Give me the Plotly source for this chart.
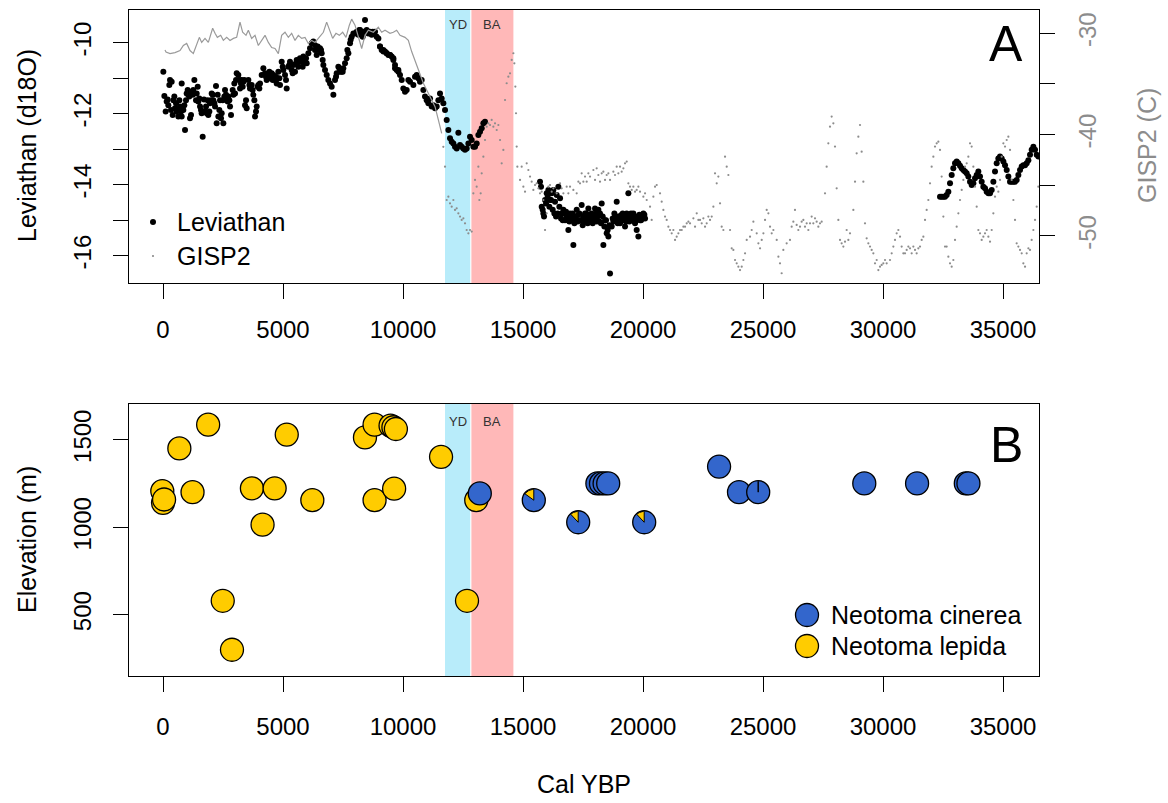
import numpy as np
import plotly.graph_objects as go

# ---------------- Leviathan Cave d18O (cal yr BP, permil) ----------------
lev_holocene = [
    (14, -10.82), (56, -11.50), (111, -11.94), (194, -11.60), (222, -11.76), (292, -11.05),
    (361, -11.10), (431, -11.62), (500, -11.85), (569, -11.94), (639, -12.08), (708, -11.80),
    (778, -11.15), (778, -12.08), (847, -11.90), (917, -12.46), (986, -11.43), (1056, -11.47),
    (1125, -12.13), (1195, -11.38), (1264, -11.33), (1306, -11.05), (1403, -11.43), (1472, -11.66),
    (1542, -11.80), (1611, -11.99), (1653, -12.65), (1708, -11.60), (1750, -11.94), (1820, -11.99),
    (1889, -12.04), (1958, -11.71), (2028, -11.43), (2097, -11.62), (2167, -11.80), (2208, -11.22),
    (2236, -12.27), (2306, -12.08), (2375, -11.62), (2445, -11.99), (2514, -12.27), (2584, -11.33),
    (2653, -11.62), (2722, -11.52), (2792, -11.80), (2834, -12.04), (2931, -11.47), (3000, -11.43),
    (3070, -10.86), (3139, -10.91), (3209, -11.29), (3278, -11.05), (3348, -11.10), (3417, -11.76),
    (3486, -11.85), (3556, -11.05), (3625, -11.29), (3695, -11.19), (3764, -11.47), (3834, -12.08),
    (3903, -11.80), (3973, -11.19), (4042, -11.15), (4181, -10.72), (4250, -10.86), (4320, -11.05),
    (4389, -10.91), (4459, -11.00), (4528, -10.86), (4598, -10.91), (4667, -11.05), (4736, -11.15),
    (4806, -10.82), (4875, -11.19), (4945, -10.54), (5014, -10.77), (5084, -10.91), (5153, -11.29),
    (5223, -10.68), (5292, -10.54), (5362, -10.77), (5431, -10.63), (5500, -10.82), (5570, -10.49),
    (5639, -10.68), (5709, -10.44), (5778, -10.54), (5848, -10.39), (5917, -10.49), (5987, -10.58),
    (6125, -10.16), (6195, -10.02), (6264, -9.97), (6334, -10.07), (6403, -10.35), (6473, -10.21),
    (6542, -10.16), (6612, -10.30), (6681, -10.63), (6751, -10.77), (6889, -11.05), (6959, -11.15),
    (7028, -11.24), (7098, -11.47), (7167, -11.05), (7237, -10.86), (7306, -10.68), (7376, -10.82),
    (7445, -10.82), (7514, -10.72), (7653, -10.44), (7723, -10.30), (7792, -10.02), (7862, -9.83),
    (7931, -9.74), (8070, -9.69), (8140, -9.78), (8209, -9.64), (8278, -9.74), (8348, -9.69),
    (8417, -9.36), (8487, -9.64), (8556, -9.74), (8626, -9.69), (8695, -9.78), (8765, -9.74),
    (8834, -9.69), (8973, -9.88), (9042, -10.11), (9181, -10.25), (9320, -10.30), (9459, -10.35),
    (9598, -10.49), (9737, -10.77), (9806, -10.82),
    (153, -11.66), (264, -11.19), (333, -11.90), (403, -12.04), (472, -11.52), (542, -11.71),
    (611, -11.90), (681, -11.62), (750, -11.94), (889, -11.76), (958, -11.62), (1028, -11.33),
    (1097, -11.52), (1167, -12.04), (1236, -11.47), (1375, -11.62), (1445, -11.24), (1514, -11.57),
    (1583, -11.90), (1792, -11.80), (1861, -11.62), (1931, -11.94), (2000, -11.62), (2070, -11.47),
    (2139, -11.71), (2278, -11.47), (2347, -11.90), (2417, -12.13), (2486, -11.62), (2556, -11.52),
    (2625, -11.47), (2695, -11.66), (2764, -11.62), (2903, -11.33), (2972, -11.15), (3042, -11.05),
    (3181, -11.05), (3250, -11.15), (3320, -11.24), (3389, -11.05), (3459, -11.62), (3598, -11.19),
    (3736, -11.33), (3806, -11.62), (3875, -11.94), (3945, -11.24), (4014, -11.29), (4111, -10.91),
    (4292, -10.96), (4431, -10.82), (4570, -11.05), (4709, -10.96), (4848, -11.00), (4987, -10.68),
    (5125, -11.05), (5264, -10.63), (5403, -10.86), (5542, -10.58), (5681, -10.54), (5820, -10.68),
    (5959, -10.44), (6056, -10.30), (6334, -10.21), (6445, -10.11), (6584, -10.21), (6653, -10.49),
    (6820, -10.91), (7209, -10.96), (7348, -10.72), (7487, -10.82), (7584, -10.58), (7681, -10.21),
    (7820, -9.92), (8001, -9.74), (8181, -9.64), (8320, -9.83), (8515, -9.69), (8737, -9.69),
    (8903, -9.83), (9112, -10.21), (9251, -10.25), (9390, -10.35), (9529, -10.39), (9667, -10.63),
]

lev_deglacial = [
    (9042, -10.11), (9181, -10.21), (9320, -10.30), (9459, -10.35), (9598, -10.44), (9667, -10.72),
    (9806, -10.77), (9875, -10.91), (9945, -11.05), (10014, -11.29), (10084, -11.38), (10153, -11.33),
    (10223, -11.05), (10292, -11.10), (10431, -11.19), (10500, -10.96), (10570, -10.91), (10639, -11.00),
    (10709, -11.10), (10778, -11.05), (10848, -11.33), (10917, -11.52), (10987, -11.62), (11056, -11.71),
    (11126, -11.57), (11195, -11.80), (11264, -11.76), (11334, -11.85), (11403, -11.80), (11473, -11.62),
    (11542, -11.43), (11612, -11.57), (11681, -11.71), (11751, -11.90), (11820, -12.18), (11890, -12.46),
    (11959, -12.69), (12029, -12.79), (12098, -12.84), (12167, -12.93), (12237, -12.98), (12306, -12.54),
    (12376, -12.88), (12445, -12.93), (12515, -12.98), (12584, -13.02), (12653, -12.98), (12723, -12.84),
    (12792, -12.65), (12862, -12.74), (12931, -12.93), (13001, -12.93), (13070, -12.84), (13140, -12.60),
    (13209, -12.51), (13279, -12.41), (13348, -12.27), (13417, -12.23),
]

lev_glacial = [
    (15709, -13.92), (15779, -14.62), (15848, -14.81), (15918, -14.43), (15987, -14.24), (16057, -14.15),
    (16126, -14.43), (16195, -14.24), (16265, -14.15), (16334, -14.48), (16404, -14.29), (16473, -14.06),
    (16543, -14.38), (16612, -14.81), (16682, -14.71), (16751, -15.00), (16820, -14.90), (16890, -15.28),
    (16959, -14.81), (17029, -15.00), (17098, -15.70), (17168, -14.90), (17237, -14.71), (17307, -14.85),
    (17376, -15.00), (17445, -14.57), (17515, -14.90), (17584, -14.81), (17654, -14.95), (17723, -14.67),
    (17793, -15.00), (17862, -14.81), (17932, -14.90), (18001, -14.67), (18070, -15.04), (18140, -14.71),
    (18209, -14.81), (18279, -14.53), (18348, -15.70), (18418, -15.00), (18487, -15.37), (18557, -15.46),
    (18626, -16.50), (18696, -15.18), (18765, -15.04), (18834, -14.90), (18904, -14.48), (18973, -14.90),
    (19043, -15.09), (19112, -14.85), (19182, -15.00), (19251, -15.18), (19321, -14.81), (19390, -14.24),
    (19459, -14.90), (19529, -15.00), (19598, -14.81), (19668, -15.09), (19737, -15.28), (19807, -15.46),
    (19876, -15.00), (19946, -14.90), (20015, -14.81), (20085, -14.95),
    (15751, -14.06), (15820, -14.71), (15876, -14.90), (15959, -14.53), (16029, -14.34), (16098, -14.62),
    (16168, -14.43), (16237, -14.71), (16307, -14.81), (16376, -14.90), (16445, -14.81), (16515, -14.62),
    (16584, -14.95), (16654, -15.00), (16723, -14.81), (16793, -14.76), (16862, -15.00), (16932, -15.04),
    (17001, -14.90), (17070, -14.81), (17140, -15.09), (17209, -14.95), (17279, -15.04), (17348, -14.81),
    (17418, -15.00), (17487, -15.14), (17557, -15.00), (17626, -14.81), (17696, -15.09), (17765, -14.85),
    (17834, -14.95), (17904, -15.09), (17973, -15.00), (18043, -14.81), (18112, -14.90), (18182, -15.04),
    (18251, -15.09), (18321, -14.90), (18390, -15.18), (18459, -15.00), (18529, -15.28), (18598, -15.14),
    (18737, -14.95), (18807, -14.81), (18876, -15.00), (18946, -15.09), (19015, -14.90), (19085, -15.00),
    (19154, -14.81), (19224, -14.95), (19293, -15.04), (19363, -14.90), (19432, -15.04), (19501, -14.81),
    (19571, -14.95), (19640, -14.90), (19710, -15.00), (19779, -14.90), (19849, -14.85), (19918, -15.00),
    (19988, -14.95), (20057, -14.85),
]

lev_mis3 = [
    (32376, -14.34), (32445, -14.34), (32515, -14.34), (32584, -14.34), (32653, -14.29), (32723, -14.20),
    (32792, -13.96), (32862, -13.73), (32931, -13.54), (33001, -13.40), (33070, -13.35), (33140, -13.40),
    (33209, -13.47), (33279, -13.54), (33348, -13.59), (33417, -13.63), (33487, -13.68), (33556, -13.77),
    (33626, -13.92), (33695, -14.01), (33765, -13.96), (33834, -13.82), (33904, -13.73), (33973, -13.63),
    (34042, -13.77), (34112, -13.92), (34181, -14.06), (34251, -14.10), (34320, -14.20), (34390, -14.24),
    (34459, -14.24), (34529, -14.15), (34598, -13.92), (34667, -13.63), (34737, -13.40), (34806, -13.26),
    (34876, -13.21), (34945, -13.26), (35015, -13.35), (35084, -13.45), (35154, -13.59), (35223, -13.77),
    (35293, -13.92), (35362, -13.92), (35432, -13.92), (35501, -13.92), (35570, -13.87), (35640, -13.73),
    (35709, -13.59), (35779, -13.49), (35848, -13.45), (35918, -13.45), (35987, -13.40), (36057, -13.31),
    (36126, -13.16), (36195, -13.02), (36265, -12.93), (36334, -13.02), (36404, -13.16), (36473, -13.21),
]

# ---------------- GISP2 temperature (cal yr BP, deg C) ----------------
gisp2_holocene = [
    (83, -31.64), (125, -31.85), (292, -32.00), (500, -31.90), (708, -31.70), (847, -31.20),
    (986, -31.00), (1125, -31.70), (1264, -32.00), (1403, -31.00), (1514, -30.40), (1611, -30.90),
    (1750, -30.50), (1889, -30.90), (2069, -29.50), (2167, -30.00), (2264, -30.40), (2403, -30.20),
    (2514, -30.70), (2653, -30.40), (2792, -30.70), (2931, -30.50), (3069, -30.40), (3208, -28.90),
    (3319, -29.90), (3458, -30.20), (3556, -29.70), (3694, -30.50), (3833, -30.20), (3972, -31.20),
    (4111, -30.70), (4250, -30.20), (4389, -30.90), (4528, -31.40), (4667, -31.50), (4806, -32.00),
    (4944, -30.20), (5083, -29.90), (5222, -30.40), (5361, -30.00), (5500, -30.70), (5639, -30.20),
    (5778, -30.50), (5917, -30.40), (6056, -31.00), (6194, -30.70), (6333, -30.90), (6472, -30.50),
    (6681, -29.90), (6819, -28.90), (6958, -29.70), (7069, -30.50), (7208, -30.00), (7347, -30.20),
    (7486, -29.90), (7625, -30.40), (7764, -29.20), (7861, -28.60), (8000, -29.20), (8139, -30.40),
    (8278, -31.50), (8417, -30.20), (8556, -29.70), (8764, -29.90), (8972, -29.40), (9111, -29.90),
    (9250, -29.70), (9458, -30.00), (9597, -29.90), (9736, -29.70), (9875, -30.20), (10083, -30.40),
    (10222, -30.70), (10361, -31.80), (10569, -33.20), (10708, -34.00), (10848, -34.93), (10987, -35.59),
    (11126, -36.25), (11334, -37.24), (11473, -38.55), (11612, -39.87),
]

gisp2_glacial = [
    (11680, -41.20), (11750, -43.16), (11820, -46.45), (11890, -46.12), (11959, -46.78), (12029, -47.11),
    (12098, -46.45), (12167, -47.43), (12237, -47.27), (12306, -47.76), (12376, -48.09), (12445, -48.42),
    (12515, -48.26), (12584, -48.75), (12653, -49.41), (12723, -49.74), (12792, -49.41), (12862, -49.57),
    (12931, -45.79), (13001, -44.47), (13070, -45.13), (13140, -43.16), (13181, -46.45), (13237, -45.79),
    (13279, -43.82), (13348, -42.17), (13417, -40.53), (13487, -39.21), (13556, -38.88), (13626, -39.05),
    (13695, -38.55), (13765, -39.21), (13834, -38.88), (13904, -39.54), (13973, -39.05), (14043, -40.53),
    (14112, -42.83), (14181, -41.51), (14251, -36.58), (14320, -34.93), (14390, -34.28), (14459, -33.95),
    (14529, -32.63), (14598, -31.97), (14640, -32.96), (14681, -35.26), (14709, -37.89), (14737, -41.18),
    (14765, -43.16),
    (14876, -44.47), (14945, -43.16), (15015, -45.13), (15084, -45.63), (15154, -42.83), (15223, -43.49),
    (15293, -44.14), (15362, -44.64), (15431, -45.46), (15501, -44.97), (15570, -44.80), (15640, -45.30),
    (15709, -45.79), (15779, -45.63), (15848, -46.45), (15918, -49.41), (15987, -47.76), (16057, -45.13),
    (16126, -44.97), (16195, -45.63), (16265, -45.30), (16404, -45.79), (16543, -44.80), (16612, -45.30),
    (16682, -45.79), (16820, -45.13), (16890, -45.79), (16959, -45.13), (17098, -45.46), (17237, -45.79),
    (17307, -44.64), (17376, -44.80), (17445, -43.82), (17515, -44.64), (17584, -44.14), (17654, -44.64),
    (17723, -43.82), (17793, -44.14), (17932, -43.49), (18001, -44.47), (18070, -43.32), (18140, -43.98),
    (18209, -44.64), (18279, -43.82), (18348, -43.65), (18418, -44.47), (18487, -43.98), (18557, -43.82),
    (18626, -44.47), (18765, -43.65), (18834, -43.98), (18904, -43.16), (18973, -43.82), (19043, -43.16),
    (19112, -43.65), (19182, -43.32), (19251, -42.83), (19321, -42.66), (19390, -44.80), (19459, -45.13),
    (19529, -45.46), (19598, -45.13), (19668, -45.63), (19737, -45.46), (19807, -45.13), (19876, -45.63),
    (20015, -46.12), (20085, -45.79), (20154, -46.45), (20293, -47.11), (20362, -48.42), (20432, -46.12),
    (20501, -45.13), (20571, -44.97), (20710, -45.79), (20779, -46.61), (20849, -47.43), (20918, -48.09),
    (20987, -48.42), (21057, -49.08), (21126, -49.41), (21196, -49.74), (21265, -49.41), (21335, -50.39),
    (21404, -50.07), (21474, -49.74), (21543, -49.41), (21613, -49.41), (21682, -49.08), (21752, -49.08),
    (21821, -48.75), (21891, -48.59), (21960, -48.75), (22099, -48.26), (22168, -49.08), (22238, -47.76),
    (22307, -48.42), (22376, -48.42), (22446, -48.75), (22515, -48.26), (22585, -49.08), (22654, -48.75),
    (22724, -48.09), (22793, -48.42), (22863, -48.09), (22932, -47.11), (23001, -43.82), (23071, -44.80),
    (23140, -44.14), (23210, -46.78), (23279, -49.08), (23349, -49.41), (23418, -42.17), (23488, -43.16),
    (23557, -43.98), (23627, -49.41), (23696, -51.22), (23765, -51.38), (23835, -52.37), (23904, -52.70),
    (23974, -53.03), (24043, -53.36), (24113, -53.03), (24182, -52.37), (24252, -51.71), (24321, -50.39),
    (24460, -50.07), (24529, -49.41), (24599, -48.59), (24738, -49.74), (24807, -50.72), (24877, -51.22),
    (24946, -50.39), (25016, -49.74), (25085, -48.42), (25154, -47.43), (25224, -47.76), (25293, -49.08),
    (25363, -49.74), (25432, -49.41), (25571, -50.39), (25641, -52.04),
    (25708, -52.70), (25778, -53.68), (25847, -51.38), (25986, -50.72), (26125, -50.39), (26195, -49.08),
    (26264, -48.59), (26333, -47.43), (26403, -48.91), (26472, -49.41), (26542, -49.08), (26611, -48.59),
    (26681, -48.42), (26750, -49.08), (26820, -48.75), (26889, -49.41), (26959, -48.75), (27028, -48.09),
    (27097, -48.75), (27167, -48.26), (27236, -48.59), (27306, -49.08), (27375, -48.75), (27445, -48.59),
    (27584, -45.79), (27653, -43.16), (27722, -40.86), (27792, -39.21), (27861, -38.22), (27931, -38.88),
    (28000, -41.18), (28070, -45.30), (28139, -48.42), (28209, -50.39), (28278, -50.72), (28348, -51.05),
    (28417, -50.56), (28486, -49.41), (28556, -50.39), (28625, -49.74), (28764, -47.43), (28834, -44.64),
    (28903, -41.84), (28973, -40.20), (29042, -39.05), (29111, -41.68), (29181, -44.64), (29250, -48.75),
    (29320, -50.23), (29389, -50.72), (29459, -51.05), (29528, -51.38), (29598, -51.71), (29667, -52.70),
    (29737, -52.37), (29806, -53.36), (29875, -53.03), (29945, -52.86), (30014, -52.70), (30084, -52.37),
    (30153, -52.70), (30292, -52.37), (30362, -51.71), (30431, -51.05), (30500, -50.39), (30570, -49.74),
    (30639, -49.41), (30709, -50.07), (30778, -51.05), (30848, -51.71), (30917, -51.71), (30987, -51.38),
    (31056, -51.05), (31126, -51.22), (31195, -51.71), (31264, -51.05), (31334, -51.38), (31403, -51.71),
    (31473, -51.22), (31542, -51.05), (31612, -50.39), (31681, -50.07), (31751, -48.42), (31820, -47.43),
    (31889, -46.45), (31959, -44.80), (32028, -43.16), (32098, -42.17), (32167, -41.18), (32237, -40.86),
    (32306, -40.69), (32376, -41.51), (32445, -44.14), (32515, -48.09), (32584, -51.05), (32653, -51.05),
    (32723, -52.04), (32792, -52.70), (32862, -53.03), (32931, -52.37), (33001, -50.39), (33070, -49.08),
    (33140, -47.76), (33209, -46.45), (33279, -45.46), (33348, -44.47), (33417, -43.16), (33487, -42.83),
    (33556, -42.17), (33626, -40.86), (33695, -41.18), (33765, -43.16), (33834, -45.13), (33904, -47.11),
    (33973, -49.41), (34042, -49.74), (34112, -50.39), (34181, -50.07), (34251, -49.74), (34320, -49.41),
    (34390, -50.07), (34459, -50.56), (34529, -49.41), (34598, -47.76), (34667, -46.12), (34737, -45.13),
    (34806, -45.63), (34876, -44.47), (34945, -42.17), (35015, -40.86), (35084, -41.18), (35154, -40.53),
    (35223, -40.20), (35293, -41.51), (35362, -44.47), (35432, -46.45), (35501, -48.42), (35570, -50.72),
    (35640, -51.05), (35709, -51.38), (35779, -51.71), (35848, -52.70), (35918, -53.03), (35987, -51.71),
    (36057, -51.22), (36126, -51.38), (36195, -50.39), (36265, -49.41), (36334, -48.42), (36404, -47.11),
    (36473, -45.13),
]

# ---------------- Packrat middens (cal yr BP, elevation m) ----------------
lepida_age = [-30, 0, 44, 681, 1230, 1881, 2489, 2874, 3704, 4148, 4652, 5156, 6222,
              8415, 8815, 8815, 9481, 9600, 9704, 9630, 11585, 12667, 13052]
lepida_elev = [1207, 1140, 1159, 1451, 1201, 1587, 580, 300, 1223, 1015, 1223, 1530, 1155,
               1514, 1587, 1155, 1581, 1572, 1562, 1221, 1403, 580, 1155]

cinerea_age = [13200, 15450, 17300, 18100, 18250, 18400, 18550, 20050, 23170, 24000, 24800,
               29220, 31420, 33450, 33560]
cinerea_elev = [1194, 1155, 1029, 1251, 1251, 1251, 1251, 1029, 1347, 1201, 1201,
                1251, 1251, 1251, 1251]
# share of N. lepida in mixed middens (drawn as a wedge)
cinerea_lepida_share = [0, 0.15, 0.12, 0, 0, 0, 0, 0.12, 0, 0, 0.01, 0, 0, 0, 0]

# Climate intervals (cal yr BP)
yd_span = [11750, 12800]
ba_span = [12850, 14600]

x_ticks = [0, 5000, 10000, 15000, 20000, 25000, 30000, 35000]
lev_ticks = [-16, -15, -14, -13, -12, -11, -10]
lev_ticktext = ["-16", "", "-14", "", "-12", "", "-10"]
gisp_ticks = [-50, -45, -40, -35, -30]
gisp_ticktext = ["-50", "", "-40", "", "-30"]
elev_ticks = [500, 1000, 1500]

# ---------------- layout constants ----------------
W, H = 1168, 803
M_L, M_R, M_T, M_B = 129, 129, 10, 127
PLOT_W = W - M_L - M_R
PLOT_H = H - M_T - M_B
TOP_DOMAIN = [1 - 273 / PLOT_H, 1.0]
BOT_DOMAIN = [0.0, 272 / PLOT_H]
X_RANGE = [-1417, 36500]
LEV_RANGE = [-16.77, -9.08]
GISP_RANGE = [-54.64, -27.7]
ELEV_RANGE = [150, 1705]

FONT = "Liberation Sans, Arial, Helvetica, sans-serif"
BLACK = "#000000"
GREY = "#8c8c8c"
LINE_GREY = "#9a9a9a"
YELLOW = "#FFCC00"
BLUE = "#3366CC"
YD_COL = "#B8ECFA"
BA_COL = "#FFB8B8"
MID_SIZE = 23


def unzip(pairs):
    a = np.array(pairs, dtype=float)
    return a[:, 0], a[:, 1]


def paper_y(py):
    return (H - M_B - py) / PLOT_H


def paper_x(px):
    return (px - M_L) / PLOT_W


lev_x, lev_y = unzip(lev_holocene + lev_deglacial + lev_glacial + lev_mis3)
gh_x, gh_y = unzip(gisp2_holocene)
gg_x, gg_y = unzip(gisp2_glacial)

fig = go.Figure()

# GISP2: dense Holocene record reads as a line, sparser glacial samples as dots
fig.add_trace(go.Scatter(x=gh_x, y=gh_y, mode="lines", xaxis="x", yaxis="y3",
                         line=dict(color=LINE_GREY, width=1.2), showlegend=False,
                         hoverinfo="skip"))
fig.add_trace(go.Scatter(x=gg_x, y=gg_y, mode="markers", xaxis="x", yaxis="y3",
                         marker=dict(color=GREY, size=2.2), showlegend=False,
                         hoverinfo="skip"))
# Leviathan d18O
fig.add_trace(go.Scatter(x=lev_x, y=lev_y, mode="markers", xaxis="x", yaxis="y",
                         marker=dict(color=BLACK, size=6), showlegend=False))

# Midden points
fig.add_trace(go.Scatter(x=lepida_age, y=lepida_elev, mode="markers", xaxis="x2", yaxis="y2",
                         marker=dict(color=YELLOW, size=MID_SIZE,
                                     line=dict(color=BLACK, width=1.3)),
                         showlegend=False))
fig.add_trace(go.Scatter(x=cinerea_age, y=cinerea_elev, mode="markers", xaxis="x2", yaxis="y2",
                         marker=dict(color=BLUE, size=MID_SIZE,
                                     line=dict(color=BLACK, width=1.3)),
                         showlegend=False))

# Lepida wedges on mixed middens (pie slice from 12 o'clock, counter-clockwise)
px_per_year = PLOT_W / (X_RANGE[1] - X_RANGE[0])
px_per_m = (BOT_DOMAIN[1] - BOT_DOMAIN[0]) * PLOT_H / (ELEV_RANGE[1] - ELEV_RANGE[0])
r_px = MID_SIZE / 2 - 0.6
wx, wy = [], []
for age, elev, share in zip(cinerea_age, cinerea_elev, cinerea_lepida_share):
    if share <= 0:
        continue
    theta = np.linspace(np.pi / 2, np.pi / 2 + 2 * np.pi * share, 30)
    xs = age + (r_px / px_per_year) * np.cos(theta)
    ys = elev + (r_px / px_per_m) * np.sin(theta)
    wx += [age] + list(xs) + [age, None]
    wy += [elev] + list(ys) + [elev, None]
fig.add_trace(go.Scatter(x=wx, y=wy, mode="lines", fill="toself", fillcolor=YELLOW,
                         xaxis="x2", yaxis="y2", line=dict(color=BLACK, width=1),
                         showlegend=False, hoverinfo="skip"))

# Climate interval bands in both panels
shapes = []
for xref, yref in (("x", "y domain"), ("x2", "y2 domain")):
    for span, col in ((yd_span, YD_COL), (ba_span, BA_COL)):
        shapes.append(dict(type="rect", xref=xref, yref=yref, x0=span[0], x1=span[1],
                           y0=0, y1=1, fillcolor=col, line=dict(width=0), layer="below"))

annotations = []
# band labels
for xref, py in (("x", 25), ("x2", 421)):
    for span, label in ((yd_span, "YD"), (ba_span, "BA")):
        annotations.append(dict(x=(span[0] + span[1]) / 2, xref=xref, y=paper_y(py), yref="paper",
                                text=label, showarrow=False, xanchor="center", yanchor="middle",
                                font=dict(family=FONT, size=13, color="#333333")))

# panel letters
annotations.append(dict(x=paper_x(1006), y=paper_y(44), xref="paper", yref="paper", text="A",
                        showarrow=False, xanchor="center", yanchor="middle",
                        font=dict(family=FONT, size=50, color=BLACK)))
annotations.append(dict(x=paper_x(1006), y=paper_y(445), xref="paper", yref="paper", text="B",
                        showarrow=False, xanchor="center", yanchor="middle",
                        font=dict(family=FONT, size=50, color=BLACK)))

# axis titles
annotations += [
    dict(x=paper_x(27), y=paper_y(146), xref="paper", yref="paper", text="Leviathan (d18O)",
         textangle=-90, showarrow=False, xanchor="center", yanchor="middle",
         font=dict(family=FONT, size=25, color=BLACK)),
    dict(x=paper_x(1147), y=paper_y(146), xref="paper", yref="paper", text="GISP2 (C)",
         textangle=-90, showarrow=False, xanchor="center", yanchor="middle",
         font=dict(family=FONT, size=25, color=GREY)),
    dict(x=paper_x(27), y=paper_y(540), xref="paper", yref="paper", text="Elevation (m)",
         textangle=-90, showarrow=False, xanchor="center", yanchor="middle",
         font=dict(family=FONT, size=25, color=BLACK)),
    dict(x=0.5, y=paper_y(784), xref="paper", yref="paper", text="Cal YBP",
         showarrow=False, xanchor="center", yanchor="middle",
         font=dict(family=FONT, size=25, color=BLACK)),
]


def dot(px, py, size, color, line_w=0):
    return dict(type="circle", xref="paper", yref="paper", xsizemode="pixel", ysizemode="pixel",
                xanchor=paper_x(px), yanchor=paper_y(py),
                x0=-size / 2, x1=size / 2, y0=-size / 2, y1=size / 2,
                fillcolor=color, line=dict(color=BLACK, width=line_w), layer="above")


# legend, top panel
shapes.append(dot(153, 222, 6, BLACK))
shapes.append(dot(153, 256, 2.2, GREY))
for txt, py in (("Leviathan", 222), ("GISP2", 256)):
    annotations.append(dict(x=paper_x(175), y=paper_y(py), xref="paper", yref="paper", text=txt,
                            showarrow=False, xanchor="left", yanchor="middle",
                            font=dict(family=FONT, size=25, color=BLACK)))

# legend, bottom panel
shapes.append(dot(807, 615, MID_SIZE, BLUE, 1.3))
shapes.append(dot(807, 646, MID_SIZE, YELLOW, 1.3))
for txt, py in (("Neotoma cinerea", 615), ("Neotoma lepida", 646)):
    annotations.append(dict(x=paper_x(829), y=paper_y(py), xref="paper", yref="paper", text=txt,
                            showarrow=False, xanchor="left", yanchor="middle",
                            font=dict(family=FONT, size=25, color=BLACK)))

axis_common = dict(showline=True, linecolor=BLACK, linewidth=1.3, mirror=True,
                   ticks="outside", ticklen=15, tickwidth=1.3, tickcolor=BLACK,
                   showgrid=False, zeroline=False,
                   tickfont=dict(family=FONT, size=24, color=BLACK))

fig.update_layout(
    width=W, height=H,
    margin=dict(l=M_L, r=M_R, t=M_T, b=M_B, pad=0),
    paper_bgcolor="white", plot_bgcolor="white",
    showlegend=False,
    xaxis=dict(domain=[0, 1], anchor="y", range=X_RANGE, tickvals=x_ticks,
               ticktext=[str(v) for v in x_ticks], ticklabelstandoff=10, **axis_common),
    yaxis=dict(domain=TOP_DOMAIN, anchor="x", range=LEV_RANGE, tickvals=lev_ticks,
               ticktext=lev_ticktext, tickangle=-90, ticklabelstandoff=12, **axis_common),
    yaxis3=dict(overlaying="y", side="right", anchor="x", range=GISP_RANGE,
                tickvals=gisp_ticks, ticktext=gisp_ticktext, tickangle=-90,
                showline=False, ticks="outside", ticklen=15, tickwidth=1.3, tickcolor=BLACK,
                showgrid=False, zeroline=False, ticklabelstandoff=12,
                tickfont=dict(family=FONT, size=24, color=GREY)),
    xaxis2=dict(domain=[0, 1], anchor="y2", range=X_RANGE, tickvals=x_ticks,
                ticktext=[str(v) for v in x_ticks], ticklabelstandoff=14, **axis_common),
    yaxis2=dict(domain=BOT_DOMAIN, anchor="x2", range=ELEV_RANGE, tickvals=elev_ticks,
                ticktext=[str(v) for v in elev_ticks], tickangle=-90, ticklabelstandoff=12,
                **axis_common),
    shapes=shapes,
    annotations=annotations,
)

fig.write_html("out.html")
